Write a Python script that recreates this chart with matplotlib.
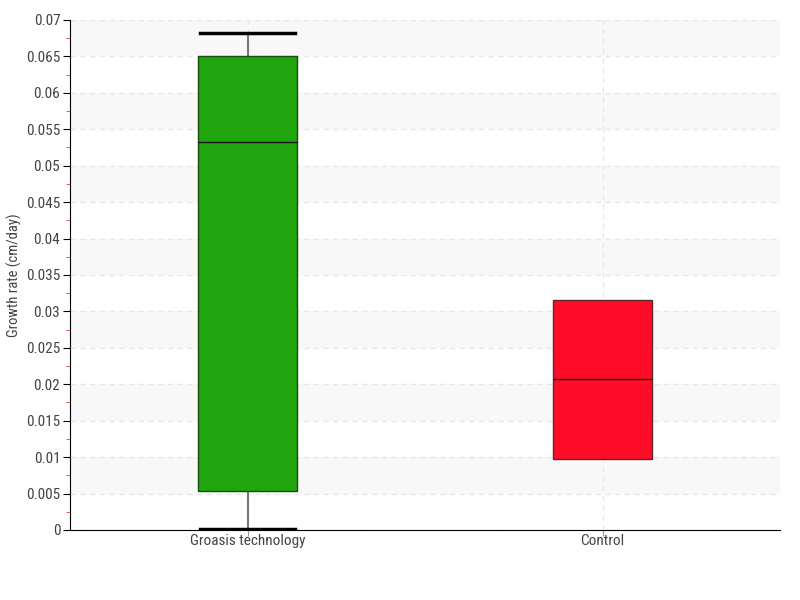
import matplotlib
matplotlib.use("Agg")
import matplotlib.pyplot as plt
from matplotlib.ticker import MultipleLocator

# Box stats (cm/day)
groups = ["Groasis technology", "Control"]
whisker_low = [0.0002, 0.0098]
q1 = [0.0053, 0.0098]
median = [0.0533, 0.0207]
q3 = [0.0651, 0.0316]
whisker_high = [0.0682, 0.0316]
colors = ["#21a50f", "#ff0d28"]
edges = ["#1a4a14", "#5a2a2a"]
has_caps = [True, False]

plt.rcParams['font.family'] = ['Roboto Condensed', 'Liberation Sans Narrow', 'Lato', 'DejaVu Sans']

fig = plt.figure(figsize=(8, 6), dpi=100)
ax = fig.add_axes([0.0875, 0.1167, 0.8875, 0.85])

# alternating background bands
for k in range(14):
    if k % 2 == 1:
        ax.axhspan(k * 0.005, (k + 1) * 0.005, color="#f8f8f8", zorder=0, lw=0)

stats = []
for i, g in enumerate(groups):
    stats.append(dict(label=g, whislo=whisker_low[i], q1=q1[i], med=median[i],
                      q3=q3[i], whishi=whisker_high[i], fliers=[]))

bp = ax.bxp(stats, positions=range(len(groups)), widths=0.28, patch_artist=True,
            showfliers=False,
            boxprops=dict(linewidth=1),
            medianprops=dict(color="#111111", linewidth=1),
            whiskerprops=dict(color="#777777", linewidth=1.5),
            capprops=dict(color="black", linewidth=2.5),
            capwidths=0.27)
for patch, c, e in zip(bp["boxes"], colors, edges):
    patch.set_facecolor(c)
    patch.set_edgecolor(e)
    patch.set_zorder(3)
for m in bp["medians"]:
    m.set_zorder(4)
for i, show in enumerate(has_caps):
    if not show:
        bp["caps"][2 * i].set_visible(False)
        bp["caps"][2 * i + 1].set_visible(False)
        bp["whiskers"][2 * i].set_visible(False)
        bp["whiskers"][2 * i + 1].set_visible(False)

ax.set_xlim(-0.5, 1.5)
ax.set_ylim(0, 0.07)
ax.yaxis.set_major_locator(MultipleLocator(0.005))
ax.yaxis.set_minor_locator(MultipleLocator(0.0025))
ax.set_yticklabels([f"{v:g}" for v in ax.get_yticks()])
ax.grid(True, axis="both", which="major", linestyle=(0, (4, 3)), color="#e8e8e8", linewidth=1)
ax.set_axisbelow(True)

ax.tick_params(axis="y", which="major", length=5, color="black", labelsize=11, labelcolor="#444444", pad=2)
ax.tick_params(axis="y", which="minor", length=3, color="#ff3030")
ax.tick_params(axis="x", length=4, color="#999999", labelsize=11, labelcolor="#444444", pad=-1)

for s in ["top", "right"]:
    ax.spines[s].set_visible(False)
ax.spines["left"].set_color("black")
ax.spines["bottom"].set_color("black")

ax.set_ylabel("Growth rate (cm/day)", fontsize=10.5, color="#444444", labelpad=3)

fig.savefig("out.png", dpi=100)
